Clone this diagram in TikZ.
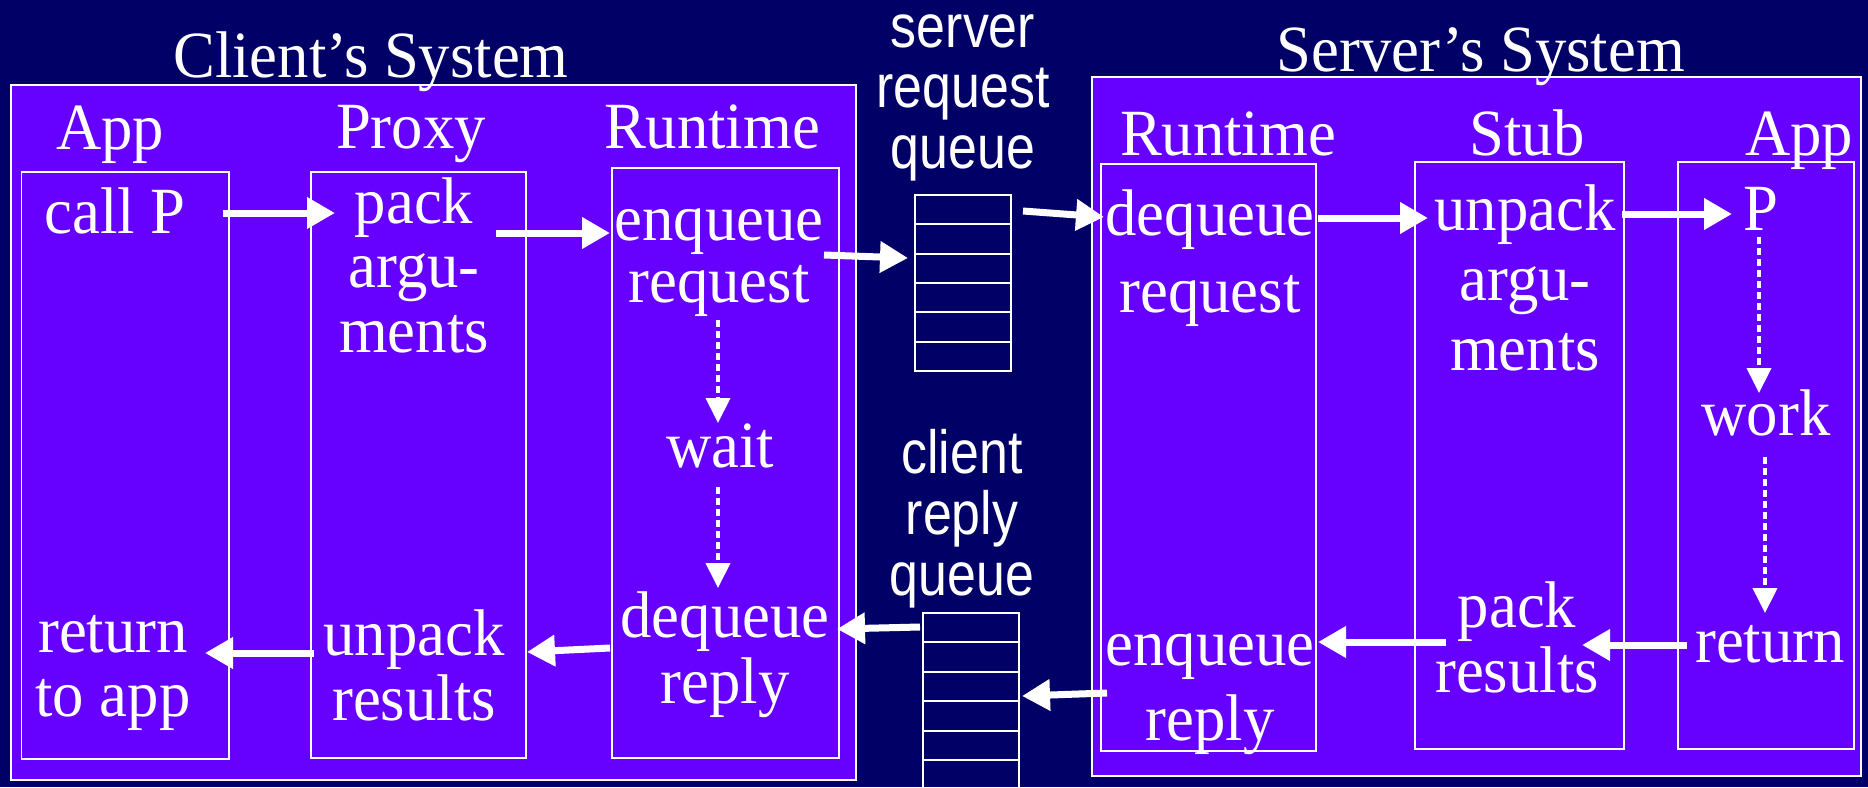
\documentclass[tikz,border=0pt]{standalone}
\usepackage{fontspec}
\setmainfont[FakeStretch=0.95]{Liberation Serif}
\newfontfamily\sansf[FakeStretch=0.85]{Liberation Sans}
\usetikzlibrary{arrows.meta,calc}
\definecolor{bgnavy}{RGB}{0,0,102}
\definecolor{boxviolet}{RGB}{102,0,255}
\newcommand\stk[2]{\vtop{\baselineskip=#1pt\relax\halign{\hfil##\hfil\cr#2\crcr}}}
\tikzset{
  serif/.style={text=white, inner sep=0pt, anchor=base, font=\fontsize{66}{66}\selectfont},
  sans/.style={text=white, inner sep=0pt, anchor=base, font=\sansf\fontsize{61}{61}\selectfont},
  outerbox/.style={draw=white, line width=2pt, fill=boxviolet, inner sep=0pt, outer sep=0pt},
  lane/.style={draw=white, line width=1.5pt, inner sep=0pt, outer sep=0pt},
  qbox/.style={draw=white, line width=2pt, inner sep=0pt, outer sep=0pt},
  qline/.style={draw=white, line width=2pt},
  flow/.style={draw=white, line width=7pt, -{Triangle[length=28pt,width=30pt]}},
  wflow/.style={draw=white, line width=4pt, dash pattern=on 7pt off 4pt, -{Triangle[length=25pt,width=24pt]}}
}
\begin{document}
\begin{tikzpicture}[x=1pt,y=-1pt]
\path[use as bounding box, fill=bgnavy] (0,0) rectangle (1868,787);
% systems
\node[outerbox, minimum width=845.3pt, minimum height=695pt] (client) at (433.35,432.5) {};
\node[outerbox, minimum width=769pt, minimum height=699pt] (server) at (1476.5,426.5) {};
% lanes
\node[lane, minimum width=207.5pt, minimum height=587pt] (cappbox) at (125.25,465.5) {};
\node[lane, minimum width=215pt, minimum height=586pt] (proxybox) at (418.5,465) {};
\node[lane, minimum width=227pt, minimum height=590pt] (crtbox) at (725.5,463) {};
\node[lane, minimum width=215pt, minimum height=587pt] (srtbox) at (1208.5,457.5) {};
\node[lane, minimum width=209pt, minimum height=587pt] (stubbox) at (1519.5,455.5) {};
\node[lane, minimum width=176pt, minimum height=587pt] (sappbox) at (1766,455.5) {};
% queues
\node[qbox, minimum width=96pt, minimum height=176pt] (reqq) at (963,283) {};
\foreach \k in {1,...,5}
  \draw[qline] ($(reqq.north west)+(0,{\k*29.333})$) -- ($(reqq.north east)+(0,{\k*29.333})$);
\node[qbox, minimum width=96pt, minimum height=205.8pt] (repq) at (971,715.9) {};
\foreach \k in {1,...,6}
  \draw[qline] ($(repq.north west)+(0,{\k*29.4})$) -- ($(repq.north east)+(0,{\k*29.4})$);
% titles
\node[serif] (clientsys) at (371,77) {Client’s System};
\node[serif] (serversys) at (1481,71) {Server’s System};
\node[serif] (capp) at (110,149) {App};
\node[serif] (proxy) at (411,148) {Proxy};
\node[serif] (crt) at (712,148) {Runtime};
\node[serif] (srt) at (1228,155) {Runtime};
\node[serif] (stub) at (1527,155) {Stub};
\node[serif] (sapp) at (1799,155) {App};
% queue labels
\node[sans] (srqlabel) at (963,47) {\stk{60.5}{server\cr request\cr queue}};
\node[sans] (crqlabel) at (962,473) {\stk{61}{client\cr reply\cr queue}};
% client steps
\node[serif] (callP) at (115,233) {call P};
\node[serif] (cpack) at (414,223) {\stk{64.5}{pack\cr argu-\cr ments}};
\node[serif] (cenq) at (719,240) {\stk{62}{enqueue\cr request}};
\node[serif] (wait) at (720,467) {wait};
\node[serif] (cdeq) at (725,637) {\stk{66}{dequeue\cr reply}};
\node[serif] (cunp) at (414,655) {\stk{65}{unpack\cr results}};
\node[serif] (cret) at (113,652) {\stk{64}{return\cr to app}};
% server steps
\node[serif] (sdeq) at (1210,235) {\stk{77}{dequeue\cr request}};
\node[serif] (sunp) at (1525,230) {\stk{70}{unpack\cr argu-\cr ments}};
\node[serif] (P) at (1761,230) {P};
\node[serif] (work) at (1766,435) {work};
\node[serif] (sret) at (1770,662) {return};
\node[serif] (spack) at (1517,627) {\stk{65}{pack\cr results}};
\node[serif] (senq) at (1210,665) {\stk{75}{enqueue\cr reply}};
% request path
\draw[flow] ($(callP.base)+(108,-20)$) -- ($(cpack.base)+(-79,-10)$);
\draw[flow] ($(cpack.base)+(82,10)$) -- ($(cenq.base)+(-109,-7)$);
\draw[flow] ($(cenq.base)+(105,15)$) -- ($(reqq.west)+(-7,-25)$);
\draw[flow] ($(reqq.east)+(12,-72)$) -- ($(sdeq.base)+(-106,-18)$);
\draw[flow] ($(sdeq.base)+(108,-17)$) -- ($(sunp.base)+(-97,-12)$);
\draw[flow] ($(sunp.base)+(97,-16)$) -- ($(P.base)+(-29,-16)$);
\draw[wflow] ($(cenq.base)+(-1,80)$) -- ($(wait.base)+(-2,-44)$);
\draw[wflow] ($(wait.base)+(-2,20)$) -- ($(cdeq.base)+(-7,-49)$);
\draw[wflow] ($(P.base)+(-2,7)$) -- ($(work.base)+(-7,-42)$);
\draw[wflow] ($(work.base)+(-1,22)$) -- ($(sret.base)+(-5,-49)$);
% reply path
\draw[flow] ($(sret.base)+(-83,-17)$) -- ($(spack.base)+(65,18)$);
\draw[flow] ($(spack.base)+(-71,15)$) -- ($(senq.base)+(108,-23)$);
\draw[flow] ($(senq.base)+(-103,28)$) -- ($(repq.north east)+(3,83)$);
\draw[flow] ($(repq.north west)+(-3,14)$) -- ($(cdeq.base)+(112,-8)$);
\draw[flow] ($(cdeq.base)+(-115,11)$) -- ($(cunp.base)+(113,-3)$);
\draw[flow] ($(cunp.base)+(-100,-2)$) -- ($(cret.base)+(92,1)$);
\end{tikzpicture}
\end{document}
